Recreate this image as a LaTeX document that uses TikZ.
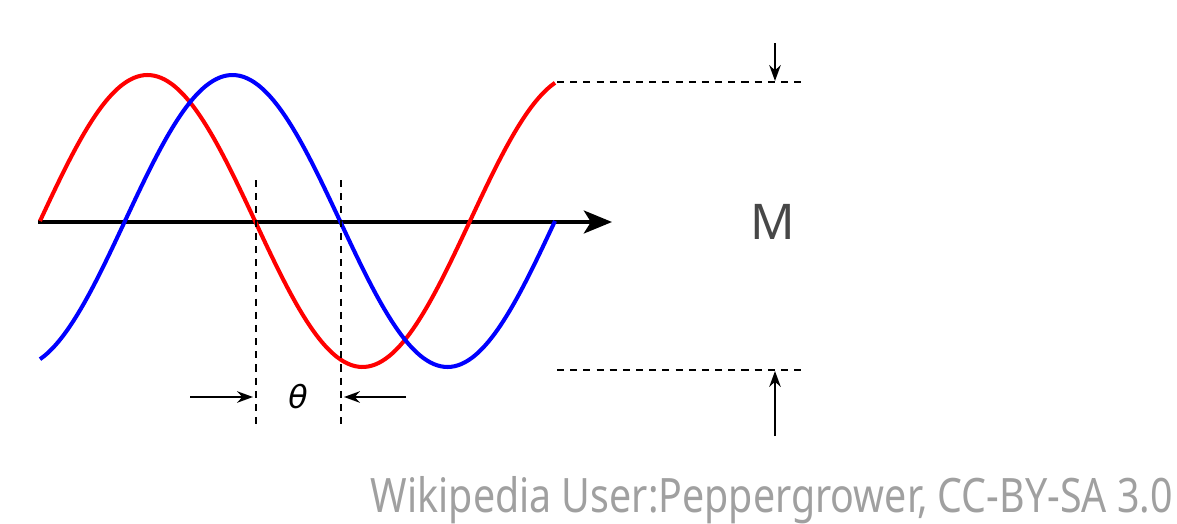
\documentclass[tikz,border=0pt]{standalone}
\usepackage{fontspec}
\usepackage{xcolor}
\usetikzlibrary{arrows.meta}
\setmainfont{Noto Sans}
\newfontfamily\thetafont{DejaVu Sans}
\newfontfamily\creditfont[FakeStretch=0.83]{Noto Sans}
\definecolor{wavered}{RGB}{255, 0, 0}
\definecolor{waveblue}{RGB}{0, 0, 255}
\definecolor{creditgray}{RGB}{160, 160, 160}

\begin{document}
\begin{tikzpicture}[x=0.02cm, y=-0.02cm,
    wave/.style={line width=2.3pt, line join=round, smooth, samples=150},
    guide/.style={dashed, line width=1.1pt, dash pattern=on 4pt off 3.5pt},
    dimarrow/.style={-{Stealth[length=9pt, width=6.5pt]}, line width=1.5pt}]
				\useasboundingbox (0,0) rectangle (1177,524);
				% axis
				\coordinate (ostart) at (38,222);
				\coordinate (oend) at (612,222);
				\draw[line width=2.4pt, -{Stealth[length=16pt, width=13pt, inset=4pt]}] (ostart) -- (oend);
				% the two waves
				\draw[wave, wavered, domain=40:555] plot (\x, {221 - 146*sin(((\x-40)/430)*360)});
				\draw[wave, waveblue, domain=40:555] plot (\x, {221 - 146*sin(((\x-125)/430)*360)});
				% phase shift
				\coordinate (ra) at (256,180);
				\coordinate (rb) at (256,426);
				\coordinate (ba) at (341,180);
				\coordinate (bb) at (341,426);
				\draw[guide] (ra) -- (rb);
				\draw[guide] (ba) -- (bb);
				\coordinate (lt) at (190,397);
				\coordinate (lh) at (253,397);
				\coordinate (rt) at (406,397);
				\coordinate (rh) at (344,397);
				\draw[dimarrow] (lt) -- (lh);
				\draw[dimarrow] (rt) -- (rh);
				\node[font=\thetafont\itshape\fontsize{18}{22}\selectfont] (theta) at (298,397) {θ};
				% amplitude
				\coordinate (tl) at (557,82);
				\coordinate (tr) at (804,82);
				\coordinate (bl) at (557,370);
				\coordinate (br) at (804,370);
				\draw[guide] (tl) -- (tr);
				\draw[guide] (bl) -- (br);
				\coordinate (ta) at (775,43);
				\coordinate (tb) at (775,81);
				\coordinate (ba2) at (775,436);
				\coordinate (bb2) at (775,371);
				\draw[dimarrow] (ta) -- (tb);
				\draw[dimarrow] (ba2) -- (bb2);
				\node[font=\fontsize{28}{34}\selectfont, text=black!72] (mag) at (773,222) {M};
				% credit
				\node[anchor=base east, inner sep=0pt, text=creditgray, font=\creditfont\fontsize{27}{32}\selectfont] (credit) at (1173,512) {Wikipedia User:Peppergrower, CC-BY-SA 3.0};
			\end{tikzpicture}
\end{document}
